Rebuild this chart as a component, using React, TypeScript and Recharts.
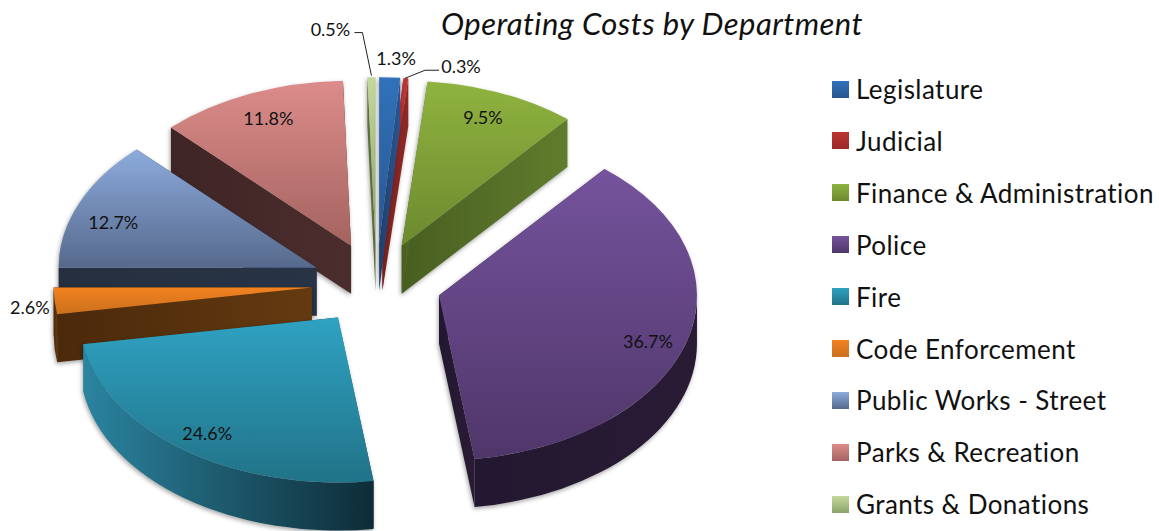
import React from 'react';
import { Pie, PieChart } from 'recharts';

const categories = [
  'Legislature',
  'Judicial',
  'Finance & Administration',
  'Police',
  'Fire',
  'Code Enforcement',
  'Public Works - Street',
  'Parks & Recreation',
  'Grants & Donations',
];
const percents = [1.3, 0.3, 9.5, 36.7, 24.6, 2.6, 12.7, 11.8, 0.5];

const topColors = [
  ['#3072ba', '#2a5590'],
  ['#bb3531', '#9c2b29'],
  ['#8fb33f', '#6c8a2f'],
  ['#75539d', '#4f3669'],
  ['#2fa2c2', '#217388'],
  ['#f4821f', '#c9701d'],
  ['#8cabdc', '#56698c'],
  ['#dc8c8a', '#a46360'],
  ['#c5d89c', '#8aa36a'],
];
const wallColors = [
  ['#1f3f6b', '#2a5590'],
  ['#7a2220', '#8e2826'],
  ['#485e20', '#607d2d'],
  ['#231831', '#2a1b35'],
  ['#2b84a0', '#0e2c37'],
  ['#4b290b', '#643a10'],
  ['#252f3f', '#283446'],
  ['#3f2526', '#4c2d2d'],
  ['#5c6e3c', '#5c6e3c'],
];
// label nudges from the 3/4 radius point of each slice
const labelNudge = [
  [9, -61],
  [61, -53],
  [6, -15],
  [23, 11],
  [-16, 16],
  [-89, 10],
  [-25, 2],
  [-7, -14],
  [-42, -90],
];

const TILT = 0.64;
const EXPLODE = 65;
const DEPTH = 48;
const RAD = Math.PI / 180;

// pie starts at 12 o'clock and runs clockwise; drawn back to front so reversed here
const pieData = categories
  .map((name, i) => ({ name, value: percents[i], idx: i }))
  .reverse();

const at = (cx: number, cy: number, r: number, deg: number) => ({
  x: cx + r * Math.cos(deg * RAD),
  y: cy - TILT * r * Math.sin(deg * RAD),
});

const SliceShape = (props: any) => {
  const { cx, cy, outerRadius: R, startAngle, endAngle, midAngle } = props;
  const idx = props.idx ?? props.payload?.idx;
  const lo = Math.min(startAngle, endAngle);
  const hi = Math.max(startAngle, endAngle);
  const mid = midAngle ?? (lo + hi) / 2;
  const tip = at(cx, cy, EXPLODE, mid);
  const a = at(tip.x, tip.y, R, lo);
  const b = at(tip.x, tip.y, R, hi);
  const large = hi - lo > 180 ? 1 : 0;
  const rx = R;
  const ry = R * TILT;
  const top = `M${tip.x},${tip.y} L${a.x},${a.y} A${rx},${ry} 0 ${large} 0 ${b.x},${b.y} Z`;
  const quad = (p: { x: number; y: number }, q: { x: number; y: number }) =>
    `M${p.x},${p.y} L${q.x},${q.y} L${q.x},${q.y + DEPTH} L${p.x},${p.y + DEPTH} Z`;

  const from = Math.max(lo, 180);
  const to = Math.min(hi, 360);
  let rim = '';
  if (to > from) {
    const p = at(tip.x, tip.y, R, from);
    const q = at(tip.x, tip.y, R, to);
    rim =
      `M${p.x},${p.y} A${rx},${ry} 0 0 0 ${q.x},${q.y} L${q.x},${q.y + DEPTH} ` +
      `A${rx},${ry} 0 0 1 ${p.x},${p.y + DEPTH} Z`;
  }
  const wallId = `wall-${idx}`;
  const topId = `top-${idx}`;
  return (
    <g style={{ filter: 'drop-shadow(-1px 2px 2px rgba(0,0,0,0.35))' }}>
      <defs>
        <linearGradient id={topId} x1="0" y1="0" x2="0" y2="1">
          <stop offset="0%" stopColor={topColors[idx][0]} />
          <stop offset="100%" stopColor={topColors[idx][1]} />
        </linearGradient>
        <linearGradient id={wallId} x1="0" y1="0" x2="1" y2="0">
          <stop offset="0%" stopColor={wallColors[idx][0]} />
          <stop offset="100%" stopColor={wallColors[idx][1]} />
        </linearGradient>
      </defs>
      <path d={quad(tip, a)} fill={`url(#${wallId})`} />
      <path d={quad(tip, b)} fill={`url(#${wallId})`} />
      {rim && <path d={rim} fill={`url(#${wallId})`} />}
      <path d={top} fill={`url(#${topId})`} />
    </g>
  );
};

const SliceLabel = (props: any) => {
  const { cx, cy, outerRadius: R, midAngle, value } = props;
  const idx = props.idx ?? props.payload?.idx;
  const tip = at(cx, cy, EXPLODE, midAngle);
  const p = at(tip.x, tip.y, R * 0.75, midAngle);
  const x = p.x + labelNudge[idx][0];
  const y = p.y + labelNudge[idx][1];
  return (
    <g>
      {idx === 8 && (
        <polyline
          points={`${x + 24},${y + 4} ${x + 32},${y + 4} ${x + 41},${y + 47}`}
          fill="none"
          stroke="#222"
          strokeWidth={1}
        />
      )}
      {idx === 1 && (
        <polyline
          points={`${x - 22},${y + 4} ${x - 36},${y + 4} ${x - 56},${y + 12}`}
          fill="none"
          stroke="#222"
          strokeWidth={1}
        />
      )}
      <text
        x={x}
        y={y}
        textAnchor="middle"
        dominantBaseline="central"
        fontFamily="Lato, 'Open Sans', sans-serif"
        fontSize={18}
        fill="#111"
      >
        {`${value}%`}
      </text>
    </g>
  );
};

export default function App() {
  return (
    <div
      style={{
        position: 'absolute',
        left: 0,
        top: 0,
        width: 1159,
        height: 531,
        overflow: 'hidden',
        background: '#fff',
        fontFamily: "Lato, 'Open Sans', sans-serif",
      }}
    >
      <PieChart width={1159} height={531} margin={{ top: 0, right: 0, bottom: 0, left: 0 }}>
        <Pie
          data={pieData}
          dataKey="value"
          nameKey="name"
          cx={376.5}
          cy={284}
          innerRadius={0}
          outerRadius={258}
          startAngle={90}
          endAngle={450}
          stroke="none"
          isAnimationActive={false}
          labelLine={false}
          label={SliceLabel}
          shape={SliceShape}
        />
      </PieChart>
      <div
        style={{
          position: 'absolute',
          left: 441,
          top: 4,
          fontSize: 31,
          letterSpacing: 0.45,
          fontStyle: 'italic',
          color: '#111',
          whiteSpace: 'nowrap',
          lineHeight: '38px',
        }}
      >
        Operating Costs by Department
      </div>
      {categories.map((name, i) => (
        <div
          key={name}
          style={{
            position: 'absolute',
            left: 832,
            top: 89 + i * 51.9 - 16,
            height: 32,
            display: 'flex',
            alignItems: 'center',
            whiteSpace: 'nowrap',
            fontSize: 26,
            letterSpacing: 0.44,
            color: '#111',
          }}
        >
          <span
            style={{
              display: 'inline-block',
              width: 17,
              height: 17,
              marginRight: 7,
              background: `linear-gradient(${topColors[i][0]}, ${topColors[i][1]})`,
            }}
          />
          {name}
        </div>
      ))}
    </div>
  );
}
